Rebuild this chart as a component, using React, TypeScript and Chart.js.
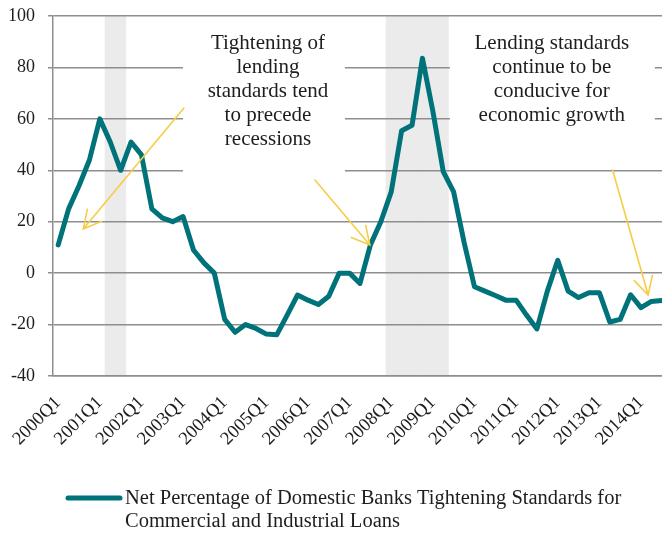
import React, { useEffect, useRef } from 'react';
import { Chart, registerables } from 'chart.js';

Chart.register(...registerables);

// ---------- data ----------
const quarters: string[] = [];
for (let y = 2000; y <= 2014; y++) {
  for (let q = 1; q <= 4; q++) {
    if (y === 2014 && q > 3) break;
    quarters.push(`${y}Q${q}`);
  }
}

const tickLabels = [
  '2000Q1', '2001Q1', '2002Q1', '2003Q1', '2004Q1', '2005Q1', '2006Q1', '2007Q1',
  '2008Q1', '2009Q1', '2010Q1', '2011Q1', '2012Q1', '2013Q1', '2014Q1',
];

const netTightening = [
  11, 25, 34, 44, 60, 51, 40, 51, 46, 25, 21.5, 20, 22, 9, 4, 0,
  -18, -23, -20, -21.5, -23.7, -24, -16.3, -8.5, -10.5, -12.2, -9, 0,
  0, -4, 11, 20, 31.6, 55.4, 57.5, 83.6, 63, 39.5, 31.6, 12,
  -5.3, -7, -8.7, -10.5, -10.5, -16.3, -21.7, -7, 5, -7, -9.5, -7.6,
  -7.6, -19, -18, -8.4, -13.4, -11, -10.6,
];

const recessionQuarters = [
  '2001Q2', '2001Q3',
  '2008Q1', '2008Q2', '2008Q3', '2008Q4', '2009Q1', '2009Q2',
];

const yTicks = [-40, -20, 0, 20, 40, 60, 80, 100];

const seriesLabel = 'Net Percentage of Domestic Banks Tightening Standards for Commercial and Industrial Loans';
const legendLines = [
  'Net Percentage of Domestic Banks Tightening Standards for',
  'Commercial and Industrial Loans',
];

const noteLeft = ['Tightening of', 'lending', 'standards tend', 'to precede', 'recessions'];
const noteRight = ['Lending standards', 'continue to be', 'conducive for', 'economic growth'];

// annotation geometry in data space: [categoryIndex, value]
const notes = [
  { lines: noteLeft, center: [20.16, 87.2], box: [11.99, 97.7, 27.55, 37] },
  { lines: noteRight, center: [47.43, 87.2], box: [37.64, 97.7, 57.33, 44] },
];
const arrows = [
  { from: [12.08, 64.2], to: [2.41, 17.2] },
  { from: [24.67, 36.2], to: [29.95, 10.95] },
  { from: [53.27, 40.1], to: [56.69, -8.5] },
];

// ---------- style ----------
const TEAL = '#00737a';
const YELLOW = '#f6cd45';
const GRID = '#8e8e8e';
const TEXT = '#1e1e1e';
const FONT = '"Liberation Serif", "Times New Roman", serif';
const W = 670;
const H = 534;

function drawArrow(ctx: CanvasRenderingContext2D, x1: number, y1: number, x2: number, y2: number) {
  const ang = Math.atan2(y1 - y2, x1 - x2);
  const len = 20;
  const spread = (28 * Math.PI) / 180;
  ctx.save();
  ctx.strokeStyle = YELLOW;
  ctx.lineWidth = 1.6;
  ctx.lineCap = 'round';
  ctx.beginPath();
  ctx.moveTo(x1, y1);
  ctx.lineTo(x2, y2);
  ctx.moveTo(x2 + len * Math.cos(ang - spread), y2 + len * Math.sin(ang - spread));
  ctx.lineTo(x2, y2);
  ctx.lineTo(x2 + len * Math.cos(ang + spread), y2 + len * Math.sin(ang + spread));
  ctx.stroke();
  ctx.restore();
}

const annotationPlugin = {
  id: 'annotationPlugin',
  beforeDraw(chart: any) {
    // recession shading drawn beneath the grid
    const meta = chart.getDatasetMeta(0);
    if (meta && meta.controller) meta.controller.draw();
  },
  beforeDatasetDraw(_chart: any, args: any) {
    if (args.index === 0) return false;
    return true;
  },
  beforeDatasetsDraw(chart: any) {
    const { ctx, scales } = chart;
    const xs = scales.x;
    const ys = scales.y;
    ctx.save();
    ctx.fillStyle = '#ffffff';
    notes.forEach((n) => {
      const l = xs.getPixelForValue(n.box[0]);
      const t = ys.getPixelForValue(n.box[1]);
      const r = xs.getPixelForValue(n.box[2]);
      const b = ys.getPixelForValue(n.box[3]);
      ctx.fillRect(l, t, r - l, b - t);
    });
    ctx.restore();
  },
  afterDraw(chart: any) {
    const { ctx, scales } = chart;
    const xs = scales.x;
    const ys = scales.y;
    ctx.save();
    ctx.font = `21px ${FONT}`;
    ctx.fillStyle = TEXT;
    ctx.textAlign = 'center';
    ctx.textBaseline = 'alphabetic';
    notes.forEach((n) => {
      const cx = xs.getPixelForValue(n.center[0]);
      const cy = ys.getPixelForValue(n.center[1]);
      n.lines.forEach((line, i) => ctx.fillText(line, cx, cy + i * 24));
    });
    ctx.restore();

    arrows.forEach((a) => {
      drawArrow(
        ctx,
        xs.getPixelForValue(a.from[0]), ys.getPixelForValue(a.from[1]),
        xs.getPixelForValue(a.to[0]), ys.getPixelForValue(a.to[1]),
      );
    });

    // legend
    const ds = chart.data.datasets[1];
    ctx.save();
    ctx.strokeStyle = ds.borderColor;
    ctx.lineWidth = 5;
    ctx.lineCap = 'round';
    ctx.beginPath();
    ctx.moveTo(68, 498);
    ctx.lineTo(120, 498);
    ctx.stroke();
    ctx.font = `20.5px ${FONT}`;
    ctx.fillStyle = TEXT;
    ctx.textAlign = 'left';
    ctx.textBaseline = 'alphabetic';
    legendLines.forEach((line, i) => ctx.fillText(line, 125, 504 + i * 23));
    ctx.restore();
  },
};

export default function App() {
  const ref = useRef<HTMLCanvasElement>(null);

  useEffect(() => {
    const canvas = ref.current;
    if (!canvas) return;
    const yMin = yTicks[0];
    const yMax = yTicks[yTicks.length - 1];
    const shade = quarters.map((q) => (recessionQuarters.includes(q) ? [yMin, yMax] : null));

    const chart = new Chart(canvas, {
      type: 'line',
      data: {
        labels: quarters,
        datasets: [
          {
            type: 'bar',
            label: 'Recession',
            data: shade as any,
            backgroundColor: '#ebebeb',
            borderWidth: 0,
            barPercentage: 1,
            categoryPercentage: 1,
          } as any,
          {
            type: 'line',
            label: seriesLabel,
            data: netTightening,
            borderColor: TEAL,
            backgroundColor: TEAL,
            borderWidth: 5,
            pointRadius: 0,
            tension: 0,
            fill: false,
            borderJoinStyle: 'round',
            borderCapStyle: 'round',
          } as any,
        ],
      },
      options: {
        responsive: false,
        animation: false,
        devicePixelRatio: 1,
        layout: { padding: { top: 16, left: 0, right: 3, bottom: 80 } },
        plugins: {
          legend: { display: false },
          tooltip: { enabled: false },
          title: { display: false },
        },
        scales: {
          x: {
            type: 'category',
            offset: true,
            grid: { display: false, drawTicks: false },
            border: { display: true, color: GRID, width: 1.5 },
            afterFit: (s: any) => {
              s.height = 78;
              s.paddingLeft = 0;
              s.paddingRight = 0;
            },
            ticks: {
              autoSkip: false,
              minRotation: 45,
              maxRotation: 45,
              padding: 16,
              color: TEXT,
              font: { family: FONT, size: 18.5 },
              callback: (_v: any, i: number) => (tickLabels.includes(quarters[i]) ? quarters[i] : ''),
            },
          },
          y: {
            type: 'linear',
            min: yTicks[0],
            max: yTicks[yTicks.length - 1],
            afterFit: (s: any) => {
              s.width = 53;
              s.paddingTop = 4;
              s.paddingBottom = 4;
            },
            afterBuildTicks: (s: any) => { s.ticks = yTicks.map((v) => ({ value: v })); },
            grid: { color: GRID, lineWidth: 1.5, drawTicks: true, tickLength: 5 },
            border: { display: true, color: GRID, width: 1.5 },
            ticks: {
              padding: 13,
              color: TEXT,
              font: { family: FONT, size: 18 },
            },
          },
        },
      },
      plugins: [annotationPlugin],
    });
    return () => chart.destroy();
  }, []);

  return (
    <div style={{ position: 'absolute', left: 0, top: 0, width: 662, height: 534, overflow: 'hidden', background: '#fff' }}>
      <canvas ref={ref} width={W} height={H} style={{ display: 'block', width: W, height: H }} />
    </div>
  );
}
